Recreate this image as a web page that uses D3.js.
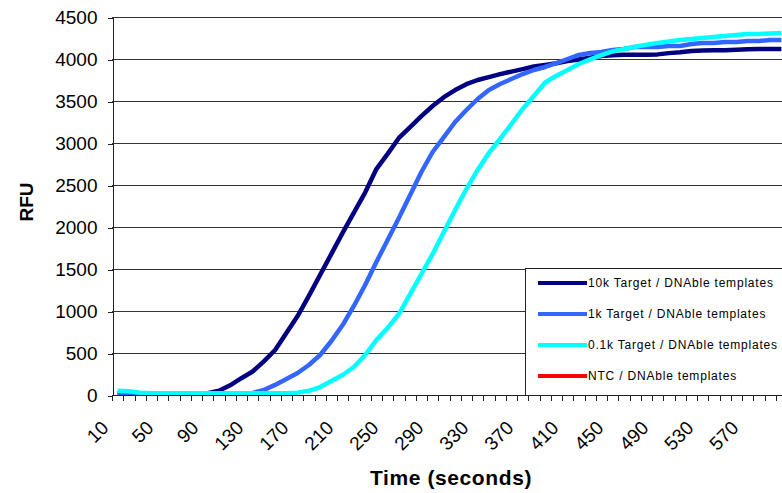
<!DOCTYPE html>
<html>
<head>
  <meta charset="utf-8">
  <script src="https://cdn.jsdelivr.net/npm/d3@7/dist/d3.min.js"></script>
  <style>
  body{
    margin:0;
    background:#fff;
  }
  svg text{
    font-family:"Liberation Sans", Arial, sans-serif;
    fill:#000;
  }
  .grid line{
    stroke:#333;
    stroke-width:1;
    shape-rendering:crispEdges;
  }
  .series{
    fill:none;
    stroke-width:4.5;
    stroke-linejoin:round;
  }
  </style>
</head>
<body>
  <svg width="782" height="493"></svg>
<script>
// time categories (seconds)
var times = [10,20,30,40,50,60,70,80,90,100,110,120,130,140,150,160,170,180,190,200,
  210,220,230,240,250,260,270,280,290,300,310,320,330,340,350,360,370,380,390,400,
  410,420,430,440,450,460,470,480,490,500,510,520,530,540,550,560,570,580,590,600];

var target10k = [20,20,20,20,20,20,20,20,22,50,115,200,280,400,536,738,940,1180,1430,1680,
  1930,2170,2410,2690,2870,3060,3190,3320,3440,3545,3630,3700,3750,3785,3820,3850,3880,3910,3930,3950,
  3975,3995,4015,4035,4045,4050,4050,4050,4055,4070,4080,4095,4100,4105,4105,4110,4115,4118,4118,4120];

var target1k = [20,20,20,20,20,20,20,20,20,20,20,20,25,60,120,190,262,357,476,643,
  833,1060,1310,1583,1845,2107,2381,2655,2893,3071,3250,3393,3524,3631,3702,3762,3821,3869,3905,3952,
  4000,4048,4071,4083,4107,4119,4143,4143,4143,4155,4155,4179,4190,4190,4202,4202,4214,4214,4226,4226];

var target01k = [50,45,28,20,20,20,20,20,20,20,20,20,20,20,20,20,28,50,95,167,
  238,333,476,655,798,964,1202,1440,1679,1941,2202,2452,2679,2881,3048,3226,3405,3560,3720,3800,
  3870,3940,3995,4045,4090,4120,4145,4170,4190,4208,4226,4238,4250,4262,4274,4286,4298,4298,4303,4310];

var ntc = []; // not visible in the plot, legend only

var seriesNames = ["10k Target / DNAble templates", "1k Target / DNAble templates",
  "0.1k Target / DNAble templates", "NTC / DNAble templates"];
var seriesColors = ["#000080", "#3366ff", "#00ffff", "#ff0000"];

var yTicks = [0,500,1000,1500,2000,2500,3000,3500,4000,4500];
var xLabels = [10,50,90,130,170,210,250,290,330,370,410,450,490,530,570];

(function (d3){
  'use strict';
  var svg = d3.select("svg"),
      margin = {top: 17, left: 112, bottom: 395, right: 787};

  var x = d3.scaleBand().domain(times).range([margin.left, margin.right]).padding(0),
      y = d3.scaleLinear().domain([0, 4500]).range([margin.bottom, margin.top]);

  var bw = x.bandwidth();

  //gridlines
  svg.append("g").attr("class", "grid")
    .selectAll("line")
    .data(yTicks.slice(1))
    .enter().append("line")
    .attr("x1", margin.left)
    .attr("x2", margin.right)
    .attr("y1", function(d){ return y(d) + 0.5; })
    .attr("y2", function(d){ return y(d) + 0.5; });

  //series
  var allSeries = [target10k, target1k, target01k, ntc];
  var line = d3.line()
    .x(function(d, i){ return x(times[i]) + bw / 2; })
    .y(function(d){ return y(d); });

  svg.append("g")
    .selectAll("path")
    .data(allSeries)
    .enter().append("path")
    .attr("class", "series")
    .attr("stroke", function(d, i){ return seriesColors[i]; })
    .attr("d", function(d){ return d.length ? line(d) : null; });

  //y axis
  var yAxis = svg.append("g")
    .attr("transform", "translate(" + (margin.left + 0.5) + ",0)")
    .call(d3.axisLeft(y).tickValues(yTicks).tickFormat(d3.format("d"))
      .tickSize(5).tickSizeOuter(0).tickPadding(10));
  yAxis.selectAll("path, line").attr("stroke", "#222").attr("shape-rendering", "crispEdges");
  yAxis.selectAll("text").attr("font-size", "19px").style("font-family", "'Liberation Sans', Arial, sans-serif");
  yAxis.selectAll(".tick line").attr("transform", "translate(0,0.5)");

  //x axis: ticks sit between categories like excel
  var xg = svg.append("g");
  xg.append("line")
    .attr("x1", margin.left).attr("x2", margin.right)
    .attr("y1", margin.bottom + 0.5).attr("y2", margin.bottom + 0.5)
    .attr("stroke", "#222")
    .attr("shape-rendering", "crispEdges");
  xg.selectAll(".xtick")
    .data(times)
    .enter().append("line")
    .attr("class", "xtick")
    .attr("x1", function(d){ return Math.round(x(d)) + 0.5; })
    .attr("x2", function(d){ return Math.round(x(d)) + 0.5; })
    .attr("y1", margin.bottom)
    .attr("y2", margin.bottom + 6)
    .attr("stroke", "#222")
    .attr("shape-rendering", "crispEdges");
  xg.selectAll(".xlabel")
    .data(xLabels)
    .enter().append("text")
    .attr("class", "xlabel")
    .attr("font-size", "19px")
    .attr("text-anchor", "end")
    .attr("transform", function(d){
      return "translate(" + (x(d) + bw / 2 - 8) + "," + 429 + ") rotate(-45)";
    })
    .text(function(d){ return d; });

  //axis titles
  svg.append("text")
    .attr("transform", "translate(33,202) rotate(-90)")
    .attr("text-anchor", "middle")
    .attr("font-size", "19px")
    .attr("font-weight", "bold")
    .text("RFU");

  svg.append("text")
    .attr("x", 451)
    .attr("y", 485)
    .attr("text-anchor", "middle")
    .attr("font-size", "21px")
    .attr("font-weight", "bold")
    .attr("letter-spacing", "0.6px")
    .text("Time (seconds)");

  //legend
  var legend = svg.append("g").attr("transform", "translate(525,268)");
  legend.append("rect")
    .attr("x", 0.5).attr("y", 0.5)
    .attr("width", 270).attr("height", 127)
    .attr("fill", "#fff")
    .attr("stroke", "#222")
    .attr("shape-rendering", "crispEdges");

  var items = legend.selectAll(".item")
    .data(seriesNames)
    .enter().append("g")
    .attr("class", "item")
    .attr("transform", function(d, i){ return "translate(0," + (15 + i * 31) + ")"; });

  items.append("line")
    .attr("x1", 13).attr("x2", 62)
    .attr("stroke-width", 4)
    .attr("stroke", function(d, i){ return seriesColors[i]; });

  items.append("text")
    .attr("x", 63)
    .attr("dy", "0.36em")
    .attr("font-size", "12px")
    .attr("letter-spacing", "0.8px")
    .text(function(d){ return d; });
})(window.d3);
</script>
</body>
</html>
